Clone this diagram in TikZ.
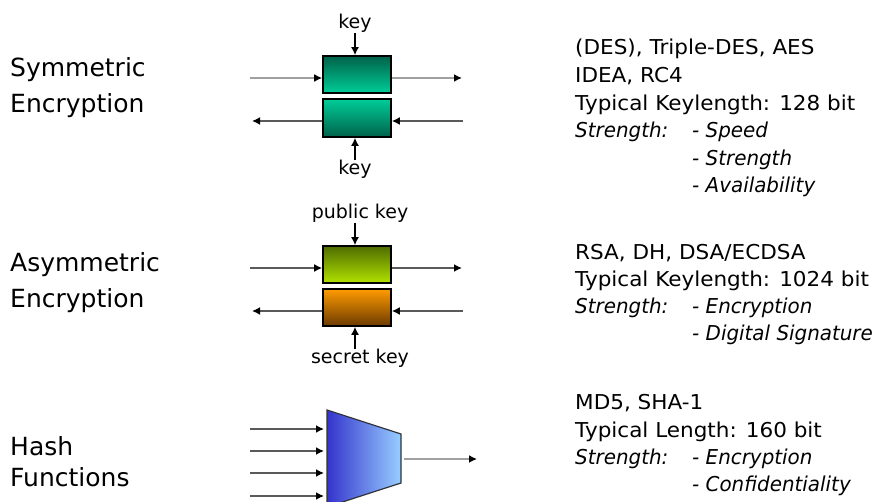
\documentclass[tikz,border=0pt]{standalone}
\usepackage{fontspec}
\setmainfont{DejaVu Sans}
\newfontfamily\inform{DejaVu Sans}[FakeStretch=1.05]
\newfontfamily\infoit{DejaVu Sans}[FakeStretch=0.97]
\usetikzlibrary{arrows.meta}

\definecolor{symdark}{RGB}{0,98,74}
\definecolor{symlight}{RGB}{0,205,152}
\definecolor{pubdark}{RGB}{78,108,0}
\definecolor{publight}{RGB}{178,226,0}
\definecolor{secorange}{RGB}{255,155,0}
\definecolor{secbrown}{RGB}{108,58,0}
\definecolor{hashdark}{RGB}{52,52,204}
\definecolor{hashlight}{RGB}{152,206,255}
\definecolor{lightline}{RGB}{160,160,160}
\definecolor{darkline}{RGB}{90,90,90}

\tikzset{
  lbl/.style={font=\fontsize{25}{30}\selectfont, anchor=base west, inner sep=0pt},
  info/.style={font=\inform\fontsize{20.5}{27}\selectfont, anchor=base west, inner sep=0pt},
  keylbl/.style={font=\fontsize{19}{23}\selectfont, anchor=base, inner sep=0pt},
  cipher/.style={draw=black, line width=1.6pt, minimum width=68pt, inner sep=0pt},
  flow/.style={line width=2pt, -{Latex[length=8pt,width=8pt,color=black]}},
  keyarr/.style={line width=1.5pt, black, -{Latex[length=8pt,width=8pt]}},
}

% italic items of the notes column
\newcommand\itm[1]{{\infoit\itshape #1}}
\newcommand\strengthlbl{\makebox[117pt][l]{\itm{Strength:}}}

\begin{document}
\begin{tikzpicture}[x=1pt, y=-1pt]
\useasboundingbox (0,0) rectangle (876,502);
\clip (0,0) rectangle (876,502);

% ---- category labels
\node[lbl] (l1a) at (10,77)  {Symmetric};
\node[lbl] (l1b) at (10,113) {Encryption};
\node[lbl] (l2a) at (10,272) {Asymmetric};
\node[lbl] (l2b) at (10,308) {Encryption};
\node[lbl] (l3a) at (10,456) {Hash};
\node[lbl] (l3b) at (10,487) {Functions};

% ---- symmetric encryption
\node[cipher, minimum height=37pt, top color=symdark, bottom color=symlight] (s1) at (357,74.5) {};
\node[cipher, minimum height=38pt, top color=symlight, bottom color=symdark] (s2) at (357,118) {};
\node[keylbl] (k1) at (355,29)  {key};
\node[keylbl] (k2) at (355,175) {key};
\draw[keyarr] (k1.south) -- (k1.south |- s1.north);
\draw[keyarr] (k2.north) -- (k2.north |- s2.south);

\coordinate (s1in)  at (250,78);
\coordinate (s1out) at (462,78);
\coordinate (s2in)  at (463,121);
\coordinate (s2out) at (252,121);
\draw[flow, lightline] (s1in) -- (s1in -| s1.west);
\draw[flow, lightline] (s1out -| s1.east) -- (s1out);
\draw[flow, darkline] (s2in) -- (s2in -| s2.east);
\draw[flow, darkline] (s2out -| s2.west) -- (s2out);

% ---- asymmetric encryption
\node[cipher, minimum height=37pt, top color=pubdark, bottom color=publight] (a1) at (357,264.5) {};
\node[cipher, minimum height=37pt, top color=secorange, bottom color=secbrown] (a2) at (357,307.5) {};
\node[keylbl] (pk) at (360,219) {public key};
\node[keylbl] (sk) at (360,364) {secret key};
\coordinate (pkx) at (355,0);
\draw[keyarr] (pk.south -| pkx) -- (pkx |- a1.north);
\draw[keyarr] (sk.north -| pkx) -- (pkx |- a2.south);

\coordinate (a1in)  at (250,268);
\coordinate (a1out) at (462,268);
\coordinate (a2in)  at (463,311);
\coordinate (a2out) at (252,311);
\draw[flow, darkline] (a1in) -- (a1in -| a1.west);
\draw[flow, darkline] (a1out -| a1.east) -- (a1out);
\draw[flow, darkline] (a2in) -- (a2in -| a2.east);
\draw[flow, darkline] (a2out -| a2.west) -- (a2out);

% ---- hash function (compressing trapezoid)
\coordinate (htl) at (327,410);
\coordinate (htr) at (401,434);
\coordinate (hbr) at (401,483);
\coordinate (hbl) at (327,507);
\path[draw=black!80, line width=1.2pt, left color=hashdark, right color=hashlight]
  (htl) -- (htr) -- (hbr) -- (hbl) -- cycle;

\foreach \y [count=\i] in {429,451,473,496} {
  \coordinate (hin\i) at (250,\y);
  \draw[flow, darkline] (hin\i) -- ([xshift=-3pt]hin\i -| htl);
}
\coordinate (hsrc) at (404,459);
\coordinate (hout) at (477,459);
\draw[flow, lightline] (hsrc) -- (hout);

% ---- algorithm notes
\node[info] (t1) at (575,55)    {(DES), Triple-DES, AES};
\node[info] (t2) at (575,82.6)  {IDEA, RC4};
\node[info] (t3) at (575,110.2) {Typical Keylength: 128 bit};
\node[info] (t4) at (575,137.8) {\strengthlbl\itm{- Speed}};
\node[info] (t5) at (692,165.4) {\itm{- Strength}};
\node[info] (t6) at (692,193)   {\itm{- Availability}};

\node[info] (u1) at (575,260) {RSA, DH, DSA/ECDSA};
\node[info] (u2) at (575,287) {Typical Keylength: 1024 bit};
\node[info] (u3) at (575,314) {\strengthlbl\itm{- Encryption}};
\node[info] (u4) at (692,341) {\itm{- Digital Signature}};

\node[info] (v1) at (575,410)   {MD5, SHA-1};
\node[info] (v2) at (575,437.5) {Typical Length: 160 bit};
\node[info] (v3) at (575,465)   {\strengthlbl\itm{- Encryption}};
\node[info] (v4) at (692,492)   {\itm{- Confidentiality}};
\end{tikzpicture}
\end{document}
